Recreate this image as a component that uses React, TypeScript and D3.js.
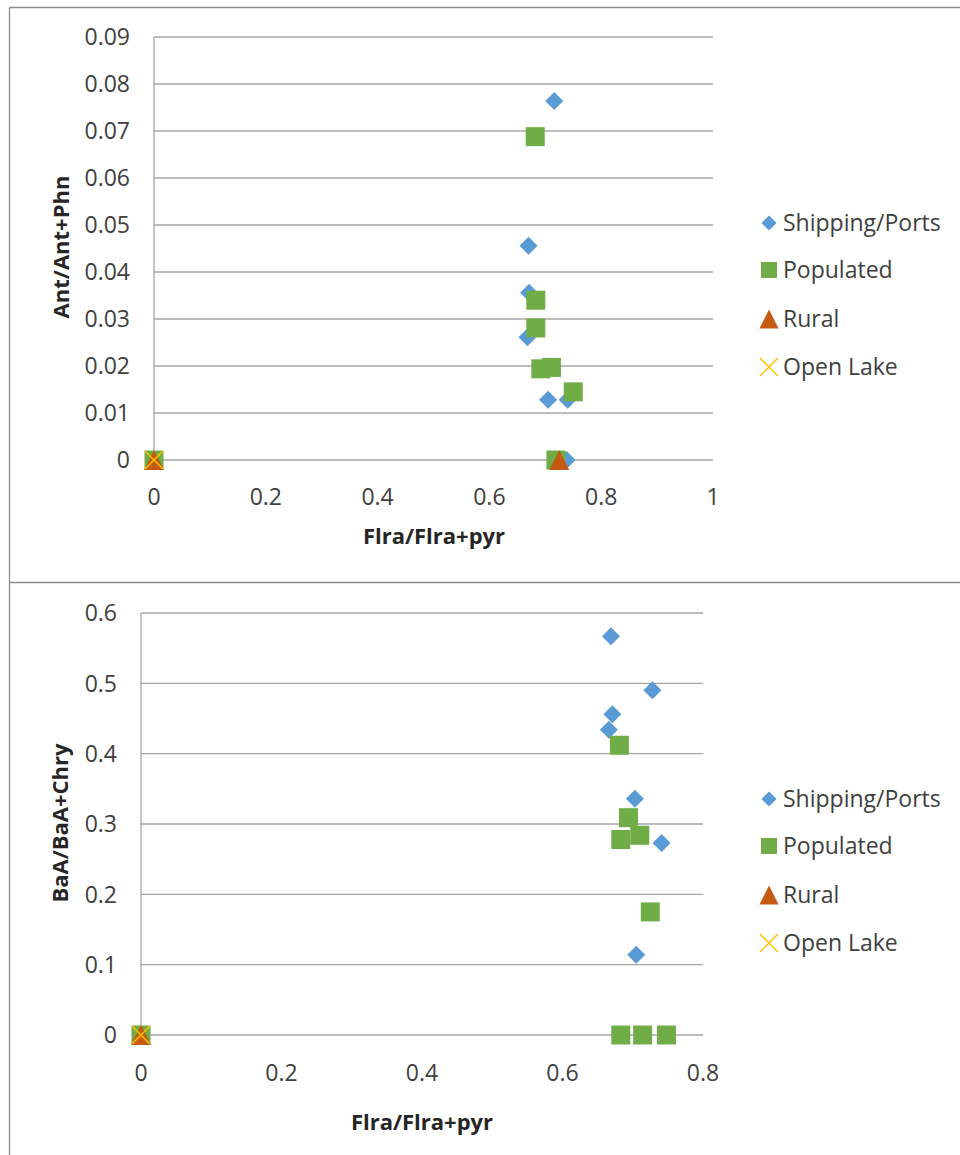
import React from "react";
import * as d3 from "d3";

// ---- Data ----
const seriesNames = ["Shipping/Ports", "Populated", "Rural", "Open Lake"];

// Top chart: Flra/Flra+pyr vs Ant/Ant+Phn
const topShipping: [number, number][] = [
  [0.716, 0.0764], [0.670, 0.0456], [0.671, 0.0356], [0.668, 0.0261],
  [0.705, 0.0128], [0.740, 0.0128], [0.700, 0.0197], [0.738, 0], [0, 0],
];
const topPopulated: [number, number][] = [
  [0.682, 0.0688], [0.683, 0.034], [0.683, 0.0281], [0.692, 0.0194],
  [0.711, 0.0197], [0.750, 0.0145], [0.719, 0], [0, 0],
];
const topRural: [number, number][] = [[0.725, 0], [0, 0]];
const topOpenLake: [number, number][] = [[0, 0]];

// Bottom chart: Flra/Flra+pyr vs BaA/BaA+Chry
const botShipping: [number, number][] = [
  [0.669, 0.567], [0.728, 0.49], [0.671, 0.456], [0.666, 0.434],
  [0.703, 0.336], [0.741, 0.273], [0.705, 0.114], [0, 0],
];
const botPopulated: [number, number][] = [
  [0.681, 0.412], [0.694, 0.309], [0.710, 0.284], [0.683, 0.278],
  [0.725, 0.175], [0.683, 0], [0.714, 0], [0.748, 0], [0, 0],
];
const botRural: [number, number][] = [[0, 0]];
const botOpenLake: [number, number][] = [[0, 0]];

const topXTicks = [0, 0.2, 0.4, 0.6, 0.8, 1];
const topYTicks = [0, 0.01, 0.02, 0.03, 0.04, 0.05, 0.06, 0.07, 0.08, 0.09];
const botXTicks = [0, 0.2, 0.4, 0.6, 0.8];
const botYTicks = [0, 0.1, 0.2, 0.3, 0.4, 0.5, 0.6];

const colors = ["#5B9BD5", "#70AD47", "#C55A11", "#FFC000"];
const shapes = ["diamond", "square", "triangle", "x"];
const FONT = "'Open Sans', sans-serif";

function markerPath(shape: string, s: number): string {
  const h = s / 2;
  const p = d3.path();
  if (shape === "diamond") {
    p.moveTo(0, -h); p.lineTo(h, 0); p.lineTo(0, h); p.lineTo(-h, 0); p.closePath();
  } else if (shape === "square") {
    p.rect(-h, -h, s, s);
  } else if (shape === "triangle") {
    p.moveTo(0, -h); p.lineTo(h, h); p.lineTo(-h, h); p.closePath();
  } else {
    p.moveTo(-h, -h); p.lineTo(h, h); p.moveTo(h, -h); p.lineTo(-h, h);
  }
  return p.toString();
}

function Marker({ shape, color, x, y, size }: { shape: string; color: string; x: number; y: number; size: number }) {
  const d = markerPath(shape, size);
  if (shape === "x") {
    return <path d={d} transform={`translate(${x},${y})`} stroke={color} strokeWidth={1.5} fill="none" />;
  }
  return <path d={d} transform={`translate(${x},${y})`} fill={color} />;
}

const markerSizes = [18, 19, 20, 18];
const legendSizes = [15, 16, 19, 18];

type ChartProps = {
  x0: number; x1: number; y0: number; y1: number;
  xDomain: [number, number]; yDomain: [number, number];
  xTicks: number[]; yTicks: number[];
  series: [number, number][][];
  yTitle: string; xTitle: string;
  yTitleX: number; yTitleY: number; xTitleX: number; xTitleY: number;
  xTickY: number; yTickX: number;
  legendY: number[];
};

function Chart(props: ChartProps) {
  const x = d3.scaleLinear().domain(props.xDomain).range([props.x0, props.x1]);
  const y = d3.scaleLinear().domain(props.yDomain).range([props.y1, props.y0]);
  const fmt = (v: number) => String(+v.toFixed(2));
  return (
    <g>
      {props.yTicks.map((t) => (
        <line key={"g" + t} x1={props.x0} x2={props.x1} y1={y(t)} y2={y(t)} stroke="#A6A6A6" strokeWidth={1.3} />
      ))}
      <line x1={props.x0} x2={props.x0} y1={props.y0} y2={props.y1} stroke="#A6A6A6" strokeWidth={1.3} />
      {props.yTicks.map((t) => (
        <text key={"yt" + t} x={props.yTickX} y={y(t)} dy="0.36em" textAnchor="end" fontSize={23} fill="#404040" fontFamily={FONT}>
          {fmt(t)}
        </text>
      ))}
      {props.xTicks.map((t) => (
        <text key={"xt" + t} x={x(t)} y={props.xTickY} dy="0.36em" textAnchor="middle" fontSize={23} fill="#404040" fontFamily={FONT}>
          {fmt(t)}
        </text>
      ))}
      <text x={props.xTitleX} y={props.xTitleY} dy="0.36em" textAnchor="middle" fontSize={22} fontWeight="bold" fill="#262626" fontFamily={FONT}>
        {props.xTitle}
      </text>
      <text transform={`translate(${props.yTitleX},${props.yTitleY}) rotate(-90)`} dy="0.36em" textAnchor="middle" fontSize={22} fontWeight="bold" fill="#262626" fontFamily={FONT}>
        {props.yTitle}
      </text>
      {props.series.map((pts, si) => (
        <g key={"s" + si}>
          {pts.map((p, i) => (
            <Marker key={i} shape={shapes[si]} color={colors[si]} x={x(p[0])} y={y(p[1])} size={markerSizes[si]} />
          ))}
        </g>
      ))}
      {seriesNames.map((n, i) => (
        <g key={"l" + n}>
          <Marker shape={shapes[i]} color={colors[i]} x={769} y={props.legendY[i]} size={legendSizes[i]} />
          <text x={783} y={props.legendY[i]} dy="0.36em" fontSize={23} fill="#404040" fontFamily={FONT}>{n}</text>
        </g>
      ))}
    </g>
  );
}

export default function App() {
  return (
    <svg width={960} height={1155} style={{ position: "absolute", left: 0, top: 0, background: "#fff" }}>
      <rect x={0} y={0} width={960} height={1155} fill="#fff" />
      {/* frames */}
      <line x1={9.5} x2={960} y1={7.5} y2={7.5} stroke="#8C8C8C" strokeWidth={1.3} />
      <line x1={9.5} x2={960} y1={582.5} y2={582.5} stroke="#8C8C8C" strokeWidth={1.3} />
      <line x1={9.5} x2={9.5} y1={7.5} y2={1155} stroke="#8C8C8C" strokeWidth={1.3} />
      <Chart
        x0={154} x1={713} y0={37} y1={460}
        xDomain={[0, 1]} yDomain={[0, 0.09]}
        xTicks={topXTicks} yTicks={topYTicks}
        series={[topShipping, topPopulated, topRural, topOpenLake]}
        yTitle="Ant/Ant+Phn" xTitle="Flra/Flra+pyr"
        yTitleX={61} yTitleY={247} xTitleX={434} xTitleY={536}
        xTickY={497} yTickX={130}
        legendY={[223, 270, 319, 367]}
      />
      <Chart
        x0={141} x1={703} y0={613} y1={1035}
        xDomain={[0, 0.8]} yDomain={[0, 0.6]}
        xTicks={botXTicks} yTicks={botYTicks}
        series={[botShipping, botPopulated, botRural, botOpenLake]}
        yTitle="BaA/BaA+Chry" xTitle="Flra/Flra+pyr"
        yTitleX={60} yTitleY={823} xTitleX={422} xTitleY={1122}
        xTickY={1073} yTickX={117}
        legendY={[799, 846, 895, 943]}
      />
    </svg>
  );
}
